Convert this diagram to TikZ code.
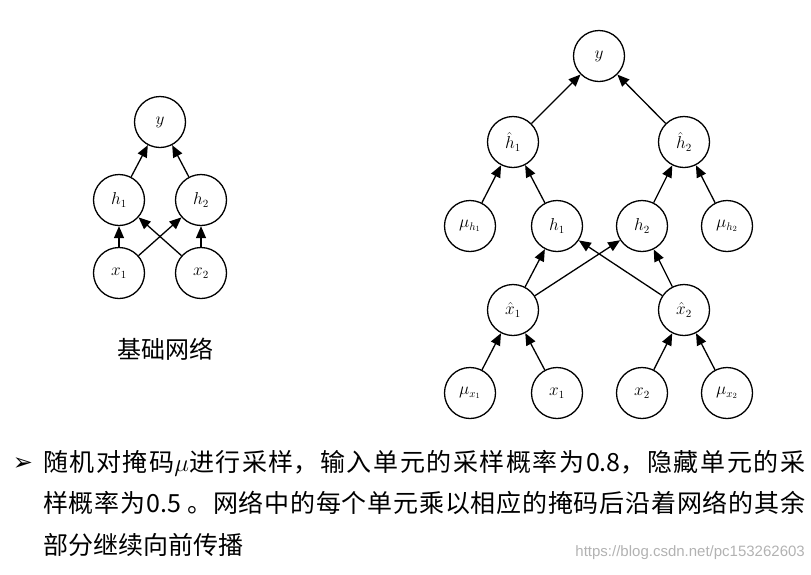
\documentclass[tikz,border=0pt]{standalone}
\usepackage{amsmath,amssymb}
\usepackage{fontspec}
\newfontfamily\cjk{Noto Sans CJK SC}
\newfontfamily\dingfont{DejaVu Sans}
\newfontfamily\urlfont{Liberation Sans}
\usetikzlibrary{arrows.meta,positioning,calc}
\XeTeXlinebreaklocale "zh"
\XeTeXlinebreakskip=0pt plus 3pt
\tikzset{
  nd/.style   = {circle, draw, minimum size=51pt, inner sep=0pt,
                 line width=1.3pt, font=\fontsize{16}{18}\selectfont},
  edg/.style  = {line width=1.3pt, -{Triangle[length=12pt,width=10pt]}},
  capt/.style = {font=\cjk\fontsize{24}{28}\selectfont},
  txt/.style  = {font=\cjk\fontsize{25}{41.5}\selectfont, align=justify,
                 text width=762pt, inner sep=0pt},
  wmk/.style  = {font=\urlfont\fontsize{15}{17}\selectfont,
                 text=black!30, inner sep=0pt},
}
\begin{document}
\begin{tikzpicture}[x=1pt,y=-1pt]
  \useasboundingbox (0,0) rectangle (811,574);
  % basic network
  \begin{scope}
    \node[nd] (ly)  at (160,122) {$y$};
    \node[nd] (lh1) at (119,200) {$h_1$};
    \node[nd] (lh2) at (201,200) {$h_2$};
    \node[nd] (lx1) at (119,273) {$x_1$};
    \node[nd] (lx2) at (201,273) {$x_2$};
    \draw[edg] (lx1) -- (lh1);
    \draw[edg] (lx1) -- (lh2);
    \draw[edg] (lx2) -- (lh1);
    \draw[edg] (lx2) -- (lh2);
    \draw[edg] (lh1) -- (ly);
    \draw[edg] (lh2) -- (ly);
    \node[capt] (lcap) at (165,349) {基础网络};
  \end{scope}
  % masked network
  \begin{scope}
    \node[nd] (ry)   at (599,56)  {$y$};
    \node[nd] (rhh1) at (513,142) {$\hat{h}_1$};
    \node[nd] (rhh2) at (684,142) {$\hat{h}_2$};
    \node[nd] (rmh1) at (470,226) {$\mu_{h_1}$};
    \node[nd] (rh1)  at (557,226) {$h_1$};
    \node[nd] (rh2)  at (642,226) {$h_2$};
    \node[nd] (rmh2) at (727,226) {$\mu_{h_2}$};
    \node[nd] (rxh1) at (513,310) {$\hat{x}_1$};
    \node[nd] (rxh2) at (684,310) {$\hat{x}_2$};
    \node[nd] (rmx1) at (470,393) {$\mu_{x_1}$};
    \node[nd] (rx1)  at (557,393) {$x_1$};
    \node[nd] (rx2)  at (642,393) {$x_2$};
    \node[nd] (rmx2) at (727,393) {$\mu_{x_2}$};
    \draw[edg] (rhh1) -- (ry);
    \draw[edg] (rhh2) -- (ry);
    \draw[edg] (rmh1) -- (rhh1);
    \draw[edg] (rh1) -- (rhh1);
    \draw[edg] (rh2) -- (rhh2);
    \draw[edg] (rmh2) -- (rhh2);
    \draw[edg] (rxh1) -- (rh1);
    \draw[edg] (rxh1) -- (rh2);
    \draw[edg] (rxh2) -- (rh1);
    \draw[edg] (rxh2) -- (rh2);
    \draw[edg] (rmx1) -- (rxh1);
    \draw[edg] (rx1) -- (rxh1);
    \draw[edg] (rx2) -- (rxh2);
    \draw[edg] (rmx2) -- (rxh2);
  \end{scope}
  % text below
  \node[font=\dingfont\fontsize{24}{26}\selectfont, inner sep=0pt] (blt) at (23,464) {➢};
  \node[txt, anchor=north west] (body) at (43,450)
    {随机对掩码{\fontsize{29}{30}\selectfont$\mu$}进行采样，输入单元的采样概率为0.8，隐藏单元的采\linebreak
     样概率为0.5 。网络中的每个单元乘以相应的掩码后沿着网络的其余\linebreak
     部分继续向前传播};
  \node[wmk, anchor=east] (url) at (805,553) {https://blog.csdn.net/pc153262603};
\end{tikzpicture}
\end{document}
